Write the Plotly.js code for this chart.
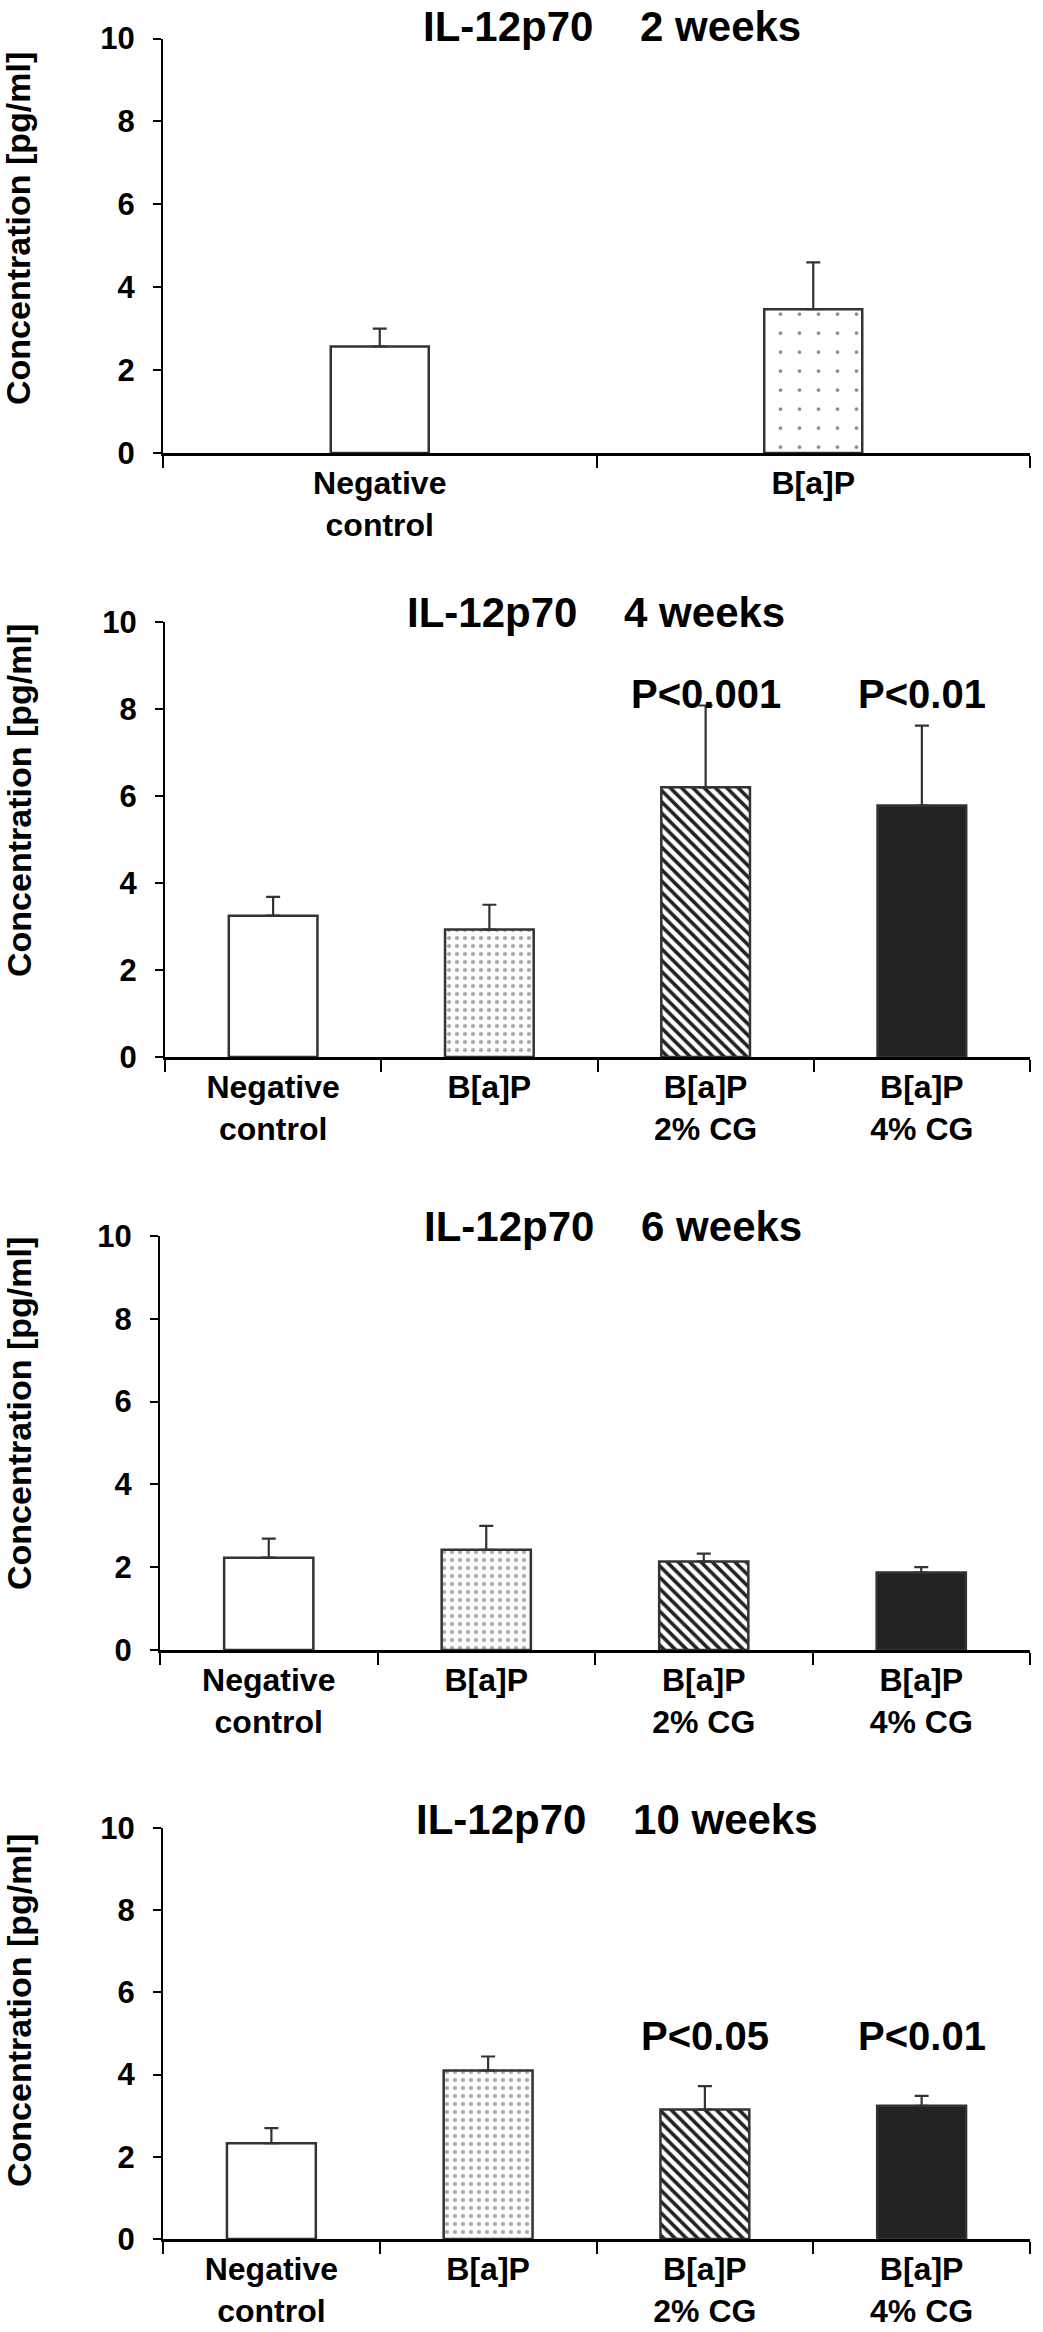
<!DOCTYPE html>
<html>
<head>
<meta charset="utf-8">
<script src="https://cdn.plot.ly/plotly-3.0.1.min.js"></script>
<style>
html,body{margin:0;padding:0;background:#fff;}
#chart{width:1043px;height:2332px;}
</style>
</head>
<body>
<div id="chart"></div>
<script>
// ---- data ----
const cats2 = ['Negative<br>control', 'B[a]P'];
const cats4 = ['Negative<br>control', 'B[a]P', 'B[a]P<br>2% CG', 'B[a]P<br>4% CG'];
const titles = ['IL-12p70\u00a0\u00a0\u00a0\u00a02 weeks', 'IL-12p70\u00a0\u00a0\u00a0\u00a04 weeks',
                'IL-12p70\u00a0\u00a0\u00a0\u00a06 weeks', 'IL-12p70\u00a0\u00a0\u00a0\u00a010 weeks'];
const wk2Mean = [2.57, 3.47];
const wk2Err  = [0.43, 1.13];
const wk4Mean = [3.25, 2.93, 6.20, 5.78];
const wk4Err  = [0.43, 0.57, 1.88, 1.84];
const wk6Mean = [2.23, 2.42, 2.14, 1.87];
const wk6Err  = [0.46, 0.58, 0.19, 0.13];
const wk10Mean = [2.33, 4.10, 3.15, 3.24];
const wk10Err  = [0.37, 0.34, 0.57, 0.24];
const wk4Sig  = ['', '', 'P<0.001', 'P<0.01'];
const wk10Sig = ['', '', 'P<0.05', 'P<0.01'];
const yTicks = [0, 2, 4, 6, 8, 10];
const yTitle = 'Concentration [pg/ml]';

// ---- layout geometry (pixels) ----
const W = 1043, H = 2332;
const panels = [
  {cats: cats2, mean: wk2Mean, err: wk2Err, sig: null, x0: 163, x1: 1030, yTop: 38.6, yBot: 453, width: 0.226, dots: 'sparse',
   titleX: 421, titleY: 26, ytX: 18, ytY: 229},
  {cats: cats4, mean: wk4Mean, err: wk4Err, sig: wk4Sig, x0: 165, x1: 1030, yTop: 622, yBot: 1057, width: 0.41, dots: 'dense',
   titleX: 405, titleY: 612, ytX: 19, ytY: 801},
  {cats: cats4, mean: wk6Mean, err: wk6Err, sig: null, x0: 160, x1: 1030, yTop: 1236, yBot: 1650, width: 0.41, dots: 'dense',
   titleX: 422, titleY: 1226, ytX: 19, ytY: 1414},
  {cats: cats4, mean: wk10Mean, err: wk10Err, sig: wk10Sig, x0: 163, x1: 1030, yTop: 1828, yBot: 2239, width: 0.41, dots: 'dense',
   titleX: 414, titleY: 1819, ytX: 19, ytY: 2011}
];
const sigY = [null, 8.35, null, 4.94];

const FONT = 'Liberation Sans, Arial, Helvetica, sans-serif';
const traces = [];
const layout = {
  width: W, height: H,
  margin: {l: 0, r: 0, t: 0, b: 0},
  paper_bgcolor: '#fff', plot_bgcolor: '#fff',
  showlegend: false,
  barmode: 'overlay',
  font: {family: FONT, color: '#000'},
  annotations: []
};

function styleFor(i, dots) {
  if (i === 0) return {color: '#fff', pattern: {shape: ''}};
  if (i === 1) {
    if (dots === 'sparse') return {color: '#fff', pattern: {shape: '.', fgcolor: '#888', bgcolor: '#fff', size: 19, solidity: 0.03, fillmode: 'replace'}};
    return {color: '#fff', pattern: {shape: '.', fgcolor: '#aaa', bgcolor: '#fbfbfb', size: 8, solidity: 0.22, fillmode: 'replace'}};
  }
  if (i === 2) return {color: '#fff', pattern: {shape: '\\', fgcolor: '#222', bgcolor: '#fff', size: 8, solidity: 0.45, fillmode: 'replace'}};
  return {color: '#222', pattern: {shape: ''}};
}

panels.forEach((p, k) => {
  const ax = k === 0 ? '' : String(k + 1);
  p.cats.forEach((c, i) => {
    const st = styleFor(i, p.dots);
    traces.push({
      type: 'bar',
      x: [c],
      y: [p.mean[i]],
      xaxis: 'x' + ax, yaxis: 'y' + ax,
      width: p.width,
      marker: {color: st.color, line: {color: '#333', width: 2.5}, pattern: st.pattern},
      error_y: {
        type: 'data', symmetric: false,
        array: [p.err[i]], arrayminus: [0],
        color: '#333', thickness: 2.2, width: 7
      },
      hoverinfo: 'skip'
    });
  });
  layout['xaxis' + ax] = {
    domain: [p.x0 / W, p.x1 / W],
    anchor: 'y' + ax,
    type: 'category',
    categoryorder: 'array', categoryarray: p.cats,
    range: [-0.5, p.cats.length - 0.5],
    showline: true, linecolor: '#000', linewidth: 3,
    ticks: 'outside', tickson: 'boundaries', ticklen: 12, tickwidth: 2, tickcolor: '#000',
    showgrid: false, zeroline: false,
    tickfont: {family: FONT, size: 32, weight: 'bold', color: '#000'},
    fixedrange: true
  };
  layout['yaxis' + ax] = {
    domain: [1 - p.yBot / H, 1 - p.yTop / H],
    anchor: 'x' + ax,
    range: [0, 10],
    tickvals: yTicks,
    showline: true, linecolor: '#000', linewidth: 2,
    ticks: 'outside', ticklen: 8, tickwidth: 2, tickcolor: '#000',
    ticklabelstandoff: 12,
    showgrid: false, zeroline: false,
    tickfont: {family: FONT, size: 31, weight: 'bold', color: '#000'},
    fixedrange: true
  };
  layout.annotations.push({
    text: titles[k], xref: 'paper', yref: 'paper',
    x: p.titleX / W, y: 1 - p.titleY / H, xanchor: 'left', yanchor: 'middle',
    showarrow: false, font: {family: FONT, size: 42, weight: 'bold', color: '#000'}
  });
  layout.annotations.push({
    text: yTitle, xref: 'paper', yref: 'paper', textangle: -90,
    x: p.ytX / W, y: 1 - p.ytY / H, xanchor: 'center', yanchor: 'middle',
    showarrow: false, font: {family: FONT, size: 34, weight: 'bold', color: '#000'}
  });
  if (p.sig) {
    p.sig.forEach((s, i) => {
      if (!s) return;
      layout.annotations.push({
        text: s, xref: 'x' + ax, yref: 'y' + ax,
        x: i, y: sigY[k], xanchor: 'center', yanchor: 'middle',
        showarrow: false, font: {family: FONT, size: 40, weight: 'bold', color: '#000'}
      });
    });
  }
});

Plotly.newPlot('chart', traces, layout, {staticPlot: true, displayModeBar: false});
</script>
</body>
</html>
